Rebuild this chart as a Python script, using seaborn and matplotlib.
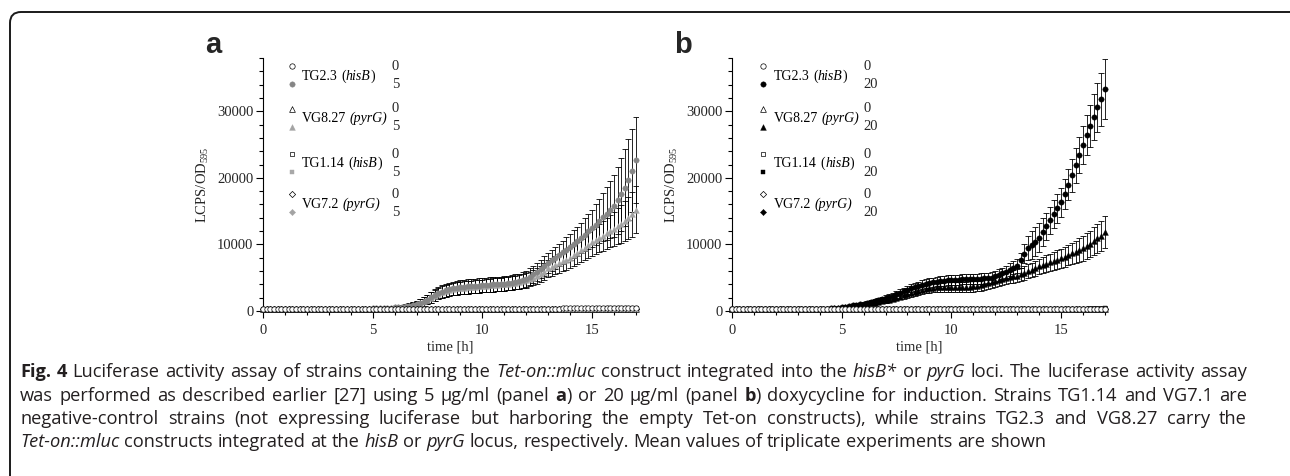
import re
import matplotlib
matplotlib.use("Agg")
import pandas as pd
import matplotlib.pyplot as plt
import seaborn as sns
from matplotlib.patches import FancyBboxPatch
from matplotlib.transforms import IdentityTransform
from matplotlib.ticker import MultipleLocator

W, H = 1290, 476

# readings every 10 min, 0 - 17 h
time_h = [round(i / 6, 4) for i in range(103)]

# ---------------- panel a (5 ug/ml) ----------------
a_tg23_0 = [262, 258, 255, 257, 260, 258,
            256, 255, 258, 260, 259, 257,
            258, 260, 262, 261, 263, 265,
            264, 266, 268, 270, 269, 271,
            273, 275, 276, 278, 280, 281,
            283, 285, 287, 288, 290, 292,
            294, 296, 297, 299, 301, 303,
            305, 306, 308, 310, 312, 314,
            315, 317, 319, 321, 322, 324,
            326, 328, 330, 331, 333, 335,
            337, 339, 340, 342, 344, 346,
            348, 349, 351, 353, 355, 357,
            358, 360, 362, 364, 366, 367,
            369, 371, 373, 375, 376, 378,
            380, 382, 384, 385, 387, 389,
            391, 393, 394, 396, 398, 400,
            402, 403, 405, 407, 409, 411,
            413]
a_tg23_5 = [300, 298, 302, 300, 297, 301,
            299, 303, 300, 298, 302, 300,
            301, 299, 303, 300, 302, 304,
            303, 306, 308, 311, 314, 318,
            322, 328, 335, 344, 356, 370,
            390, 412, 436, 462, 492, 524,
            560, 605, 660, 725, 800, 890,
            1000, 1180, 1420, 1720, 2050, 2380,
            2680, 2920, 3110, 3260, 3380, 3480,
            3560, 3620, 3680, 3730, 3780, 3830,
            3870, 3910, 3950, 3990, 4030, 4070,
            4120, 4190, 4270, 4370, 4480, 4620,
            4800, 5150, 5500, 5900, 6300, 6750,
            7200, 7600, 8000, 8400, 8800, 9200,
            9600, 10050, 10500, 10950, 11450, 11950,
            12400, 12950, 13500, 14050, 14600, 15200,
            15800, 16600, 17500, 18500, 19700, 21100,
            22700]
a_tg23_5_sd = [40, 40, 42, 41, 40, 42,
               43, 42, 44, 43, 45, 44,
               45, 46, 45, 47, 46, 48,
               48, 49, 50, 52, 53, 55,
               58, 62, 66, 72, 80, 88,
               96, 105, 115, 125, 140, 155,
               180, 210, 250, 300, 360, 430,
               500, 580, 660, 740, 820, 880,
               930, 970, 1000, 1020, 1040, 1050,
               1060, 1060, 1070, 1070, 1080, 1080,
               1080, 1080, 1090, 1090, 1100, 1100,
               1100, 1110, 1120, 1130, 1150, 1170,
               1200, 1240, 1290, 1340, 1400, 1460,
               1520, 1580, 1640, 1700, 1780, 1860,
               1950, 2050, 2170, 2300, 2460, 2640,
               2830, 3050, 3300, 3600, 3950, 4300,
               4700, 5100, 5450, 5800, 6100, 6300,
               6500]
a_vg827_0 = [248, 246, 244, 247, 249, 246,
             247, 249, 251, 250, 252, 254,
             253, 255, 257, 258, 257, 259,
             261, 263, 262, 264, 266, 268,
             267, 269, 271, 273, 272, 274,
             276, 278, 277, 279, 281, 283,
             282, 284, 286, 288, 287, 289,
             291, 293, 292, 294, 296, 298,
             297, 299, 301, 303, 302, 304,
             306, 308, 307, 309, 311, 313,
             312, 314, 316, 318, 317, 319,
             321, 323, 322, 324, 326, 328,
             327, 329, 331, 333, 332, 334,
             336, 338, 337, 339, 341, 343,
             342, 344, 346, 348, 347, 349,
             351, 353, 352, 354, 356, 358,
             357, 359, 361, 363, 362, 364,
             366]
a_vg827_5 = [290, 293, 289, 291, 294, 290,
             292, 289, 293, 291, 290, 294,
             292, 295, 293, 296, 294, 297,
             298, 300, 303, 306, 309, 313,
             318, 324, 331, 340, 351, 365,
             383, 404, 428, 456, 488, 524,
             565, 612, 668, 735, 815, 910,
             1030, 1210, 1440, 1720, 2020, 2320,
             2600, 2830, 3020, 3170, 3290, 3380,
             3450, 3510, 3560, 3610, 3660, 3710,
             3760, 3810, 3860, 3910, 3960, 4010,
             4060, 4120, 4190, 4270, 4360, 4470,
             4600, 4800, 5000, 5250, 5550, 5900,
             6400, 6650, 6900, 7200, 7450, 7700,
             8000, 8350, 8700, 9100, 9500, 9900,
             10300, 10600, 10950, 11300, 11650, 12000,
             12300, 12700, 13100, 13550, 14000, 14500,
             15200]
a_vg827_5_sd = [38, 39, 40, 39, 41, 40,
                41, 40, 42, 41, 43, 42,
                43, 44, 43, 45, 44, 46,
                46, 47, 48, 49, 51, 53,
                55, 58, 62, 67, 73, 80,
                88, 96, 105, 115, 128, 142,
                170, 200, 240, 290, 350, 420,
                490, 560, 630, 700, 760, 810,
                850, 880, 900, 920, 930, 940,
                950, 950, 960, 960, 970, 970,
                970, 980, 980, 990, 990, 1000,
                1000, 1010, 1020, 1030, 1050, 1070,
                1090, 1120, 1150, 1180, 1220, 1260,
                1300, 1340, 1380, 1430, 1480, 1530,
                1580, 1640, 1700, 1760, 1830, 1900,
                1970, 2050, 2130, 2220, 2310, 2430,
                2560, 2700, 2850, 3000, 3170, 3350,
                3550]
a_tg114_0 = [272, 270, 268, 271, 273, 270,
             271, 274, 276, 275, 277, 279,
             278, 280, 282, 283, 282, 285,
             287, 288, 287, 290, 292, 293,
             292, 295, 297, 298, 297, 300,
             302, 303, 302, 305, 307, 308,
             307, 310, 312, 313, 312, 315,
             317, 318, 317, 320, 322, 323,
             322, 325, 327, 328, 327, 330,
             332, 333, 332, 335, 337, 338,
             337, 340, 342, 343, 342, 345,
             347, 348, 347, 350, 352, 353,
             352, 355, 357, 358, 357, 360,
             362, 363, 362, 365, 367, 368,
             367, 370, 372, 373, 372, 375,
             377, 378, 377, 380, 382, 383,
             382, 385, 387, 388, 387, 390,
             392]
a_tg114_5 = [266, 264, 262, 265, 267, 264,
             265, 268, 270, 269, 271, 273,
             272, 274, 276, 277, 276, 279,
             281, 282, 281, 284, 286, 287,
             286, 289, 291, 292, 291, 294,
             296, 297, 296, 299, 301, 302,
             301, 304, 306, 307, 306, 309,
             311, 312, 311, 314, 316, 317,
             316, 319, 321, 322, 321, 324,
             326, 327, 326, 329, 331, 332,
             331, 334, 336, 337, 336, 339,
             341, 342, 341, 344, 346, 347,
             346, 349, 351, 352, 351, 354,
             356, 357, 356, 359, 361, 362,
             361, 364, 366, 367, 366, 369,
             371, 372, 371, 374, 376, 377,
             376, 379, 381, 382, 381, 384,
             386]
a_vg72_0 = [252, 250, 253, 251, 249, 252,
            254, 253, 255, 257, 256, 258,
            260, 259, 261, 263, 262, 264,
            266, 265, 267, 269, 268, 270,
            272, 271, 273, 275, 274, 276,
            278, 277, 279, 281, 280, 282,
            284, 283, 285, 287, 286, 288,
            290, 289, 291, 293, 292, 294,
            296, 295, 297, 299, 298, 300,
            302, 301, 303, 305, 304, 306,
            308, 307, 309, 311, 310, 312,
            314, 313, 315, 317, 316, 318,
            320, 319, 321, 323, 322, 324,
            326, 325, 327, 329, 328, 330,
            332, 331, 333, 335, 334, 336,
            338, 337, 339, 341, 340, 342,
            344, 343, 345, 347, 346, 348,
            350]
a_vg72_5 = [258, 256, 259, 257, 255, 258,
            260, 259, 261, 263, 262, 264,
            266, 265, 267, 269, 268, 270,
            272, 271, 273, 275, 274, 276,
            278, 277, 279, 281, 280, 282,
            284, 283, 285, 287, 286, 288,
            290, 289, 291, 293, 292, 294,
            296, 295, 297, 299, 298, 300,
            302, 301, 303, 305, 304, 306,
            308, 307, 309, 311, 310, 312,
            314, 313, 315, 317, 316, 318,
            320, 319, 321, 323, 322, 324,
            326, 325, 327, 329, 328, 330,
            332, 331, 333, 335, 334, 336,
            338, 337, 339, 341, 340, 342,
            344, 343, 345, 347, 346, 348,
            350, 349, 351, 353, 352, 354,
            356]

# ---------------- panel b (20 ug/ml) ----------------
b_tg23_0 = [240, 238, 241, 239, 237, 240,
            242, 241, 243, 245, 244, 246,
            248, 247, 249, 251, 250, 252,
            254, 253, 255, 257, 256, 258,
            260, 259, 261, 263, 262, 264,
            266, 265, 267, 269, 268, 270,
            272, 271, 273, 275, 274, 276,
            278, 277, 279, 281, 280, 282,
            284, 283, 285, 287, 286, 288,
            290, 289, 291, 293, 292, 294,
            296, 295, 297, 299, 298, 300,
            302, 301, 303, 305, 304, 306,
            308, 307, 309, 311, 310, 312,
            314, 313, 315, 317, 316, 318,
            320, 319, 321, 323, 322, 324,
            326, 325, 327, 329, 328, 330,
            332, 331, 333, 335, 334, 336,
            338]
b_tg23_20 = [255, 252, 258, 254, 256, 253,
             257, 254, 256, 259, 255, 258,
             256, 260, 258, 262, 260, 264,
             263, 267, 270, 275, 281, 289,
             300, 320, 350, 390, 440, 500,
             570, 650, 740, 830, 920, 1010,
             1100, 1230, 1370, 1510, 1650, 1800,
             1950, 2120, 2300, 2500, 2720, 2950,
             3180, 3400, 3600, 3780, 3940, 4080,
             4200, 4300, 4390, 4470, 4540, 4600,
             4650, 4690, 4720, 4750, 4770, 4790,
             4810, 4840, 4870, 4910, 4960, 5020,
             5200, 5400, 5650, 5900, 6200, 6500,
             6800, 7600, 8600, 9500, 9900, 10400,
             11000, 11800, 12700, 13600, 14500, 15400,
             16300, 17600, 19000, 20400, 21900, 23400,
             25000, 26400, 27800, 29200, 30600, 31800,
             33300]
b_tg23_20_sd = [35, 36, 35, 37, 36, 38,
                37, 38, 39, 38, 40, 39,
                40, 41, 42, 41, 43, 44,
                45, 47, 49, 52, 56, 60,
                66, 74, 84, 96, 110, 126,
                145, 165, 185, 205, 225, 245,
                265, 285, 305, 325, 345, 370,
                395, 420, 450, 480, 510, 540,
                570, 600, 620, 640, 660, 680,
                690, 700, 710, 720, 730, 740,
                740, 750, 750, 760, 760, 770,
                770, 780, 790, 800, 810, 820,
                840, 860, 880, 910, 940, 980,
                1030, 1150, 1400, 1800, 2100, 2200,
                2200, 2100, 2050, 2050, 2100, 2150,
                2200, 2300, 2400, 2500, 2600, 2700,
                2850, 3000, 3200, 3450, 3700, 4000,
                4500]
b_vg827_0 = [244, 242, 245, 243, 241, 244,
             246, 245, 247, 249, 248, 250,
             252, 251, 253, 255, 254, 256,
             258, 257, 259, 261, 260, 262,
             264, 263, 265, 267, 266, 268,
             270, 269, 271, 273, 272, 274,
             276, 275, 277, 279, 278, 280,
             282, 281, 283, 285, 284, 286,
             288, 287, 289, 291, 290, 292,
             294, 293, 295, 297, 296, 298,
             300, 299, 301, 303, 302, 304,
             306, 305, 307, 309, 308, 310,
             312, 311, 313, 315, 314, 316,
             318, 317, 319, 321, 320, 322,
             324, 323, 325, 327, 326, 328,
             330, 329, 331, 333, 332, 334,
             336, 335, 337, 339, 338, 340,
             342]
b_vg827_20 = [248, 251, 247, 250, 252, 249,
              251, 248, 253, 250, 249, 252,
              251, 254, 252, 255, 253, 257,
              256, 259, 262, 266, 271, 278,
              286, 300, 320, 350, 390, 440,
              500, 570, 640, 720, 800, 880,
              960, 1050, 1150, 1250, 1360, 1470,
              1590, 1720, 1860, 2010, 2170, 2340,
              2520, 2700, 2870, 3030, 3170, 3290,
              3390, 3470, 3530, 3570, 3590, 3600,
              3600, 3600, 3610, 3620, 3640, 3660,
              3700, 3780, 3880, 4000, 4140, 4300,
              4460, 4620, 4780, 4930, 5070, 5190,
              5300, 5520, 5740, 5960, 6180, 6440,
              6700, 6900, 7100, 7300, 7500, 7700,
              7900, 8150, 8400, 8650, 8900, 9150,
              9400, 9750, 10100, 10500, 10900, 11300,
              11800]
b_vg827_20_sd = [34, 35, 34, 36, 35, 37,
                 36, 37, 38, 37, 39, 38,
                 39, 40, 41, 40, 42, 43,
                 44, 45, 47, 49, 52, 55,
                 59, 65, 72, 80, 90, 100,
                 112, 126, 140, 155, 170, 185,
                 200, 220, 240, 260, 280, 300,
                 325, 350, 380, 410, 440, 470,
                 500, 530, 560, 590, 610, 630,
                 650, 670, 690, 700, 710, 720,
                 730, 740, 750, 760, 770, 780,
                 790, 800, 810, 820, 830, 840,
                 850, 870, 890, 910, 930, 950,
                 980, 1010, 1040, 1070, 1100, 1140,
                 1180, 1220, 1260, 1300, 1350, 1400,
                 1450, 1500, 1560, 1620, 1680, 1750,
                 1820, 1900, 1980, 2070, 2160, 2260,
                 2400]
b_tg114_0 = [262, 260, 258, 261, 263, 260,
             261, 264, 266, 265, 267, 269,
             268, 270, 272, 273, 272, 275,
             277, 278, 277, 280, 282, 283,
             282, 285, 287, 288, 287, 290,
             292, 293, 292, 295, 297, 298,
             297, 300, 302, 303, 302, 305,
             307, 308, 307, 310, 312, 313,
             312, 315, 317, 318, 317, 320,
             322, 323, 322, 325, 327, 328,
             327, 330, 332, 333, 332, 335,
             337, 338, 337, 340, 342, 343,
             342, 345, 347, 348, 347, 350,
             352, 353, 352, 355, 357, 358,
             357, 360, 362, 363, 362, 365,
             367, 368, 367, 370, 372, 373,
             372, 375, 377, 378, 377, 380,
             382]
b_tg114_20 = [256, 254, 252, 255, 257, 254,
              255, 258, 260, 259, 261, 263,
              262, 264, 266, 267, 266, 269,
              271, 272, 271, 274, 276, 277,
              276, 279, 281, 282, 281, 284,
              286, 287, 286, 289, 291, 292,
              291, 294, 296, 297, 296, 299,
              301, 302, 301, 304, 306, 307,
              306, 309, 311, 312, 311, 314,
              316, 317, 316, 319, 321, 322,
              321, 324, 326, 327, 326, 329,
              331, 332, 331, 334, 336, 337,
              336, 339, 341, 342, 341, 344,
              346, 347, 346, 349, 351, 352,
              351, 354, 356, 357, 356, 359,
              361, 362, 361, 364, 366, 367,
              366, 369, 371, 372, 371, 374,
              376]
b_vg72_0 = [236, 235, 237, 239, 238, 240,
            243, 241, 244, 245, 243, 246,
            249, 247, 250, 251, 249, 252,
            255, 253, 256, 257, 255, 258,
            261, 259, 262, 263, 261, 264,
            267, 265, 268, 269, 267, 270,
            273, 271, 274, 275, 273, 276,
            279, 277, 280, 281, 279, 282,
            285, 283, 286, 287, 285, 288,
            291, 289, 292, 293, 291, 294,
            297, 295, 298, 299, 297, 300,
            303, 301, 304, 305, 303, 306,
            309, 307, 310, 311, 309, 312,
            315, 313, 316, 317, 315, 318,
            321, 319, 322, 323, 321, 324,
            327, 325, 328, 329, 327, 330,
            333, 331, 334, 335, 333, 336,
            339]
b_vg72_20 = [250, 248, 251, 249, 247, 250,
             252, 251, 253, 255, 254, 256,
             258, 257, 259, 261, 260, 262,
             264, 263, 265, 267, 266, 268,
             270, 269, 271, 273, 272, 274,
             276, 275, 277, 279, 278, 280,
             282, 281, 283, 285, 284, 286,
             288, 287, 289, 291, 290, 292,
             294, 293, 295, 297, 296, 298,
             300, 299, 301, 303, 302, 304,
             306, 305, 307, 309, 308, 310,
             312, 311, 313, 315, 314, 316,
             318, 317, 319, 321, 320, 322,
             324, 323, 325, 327, 326, 328,
             330, 329, 331, 333, 332, 334,
             336, 335, 337, 339, 338, 340,
             342, 341, 343, 345, 344, 346,
             348]

strains = ["TG2.3", "VG8.27", "TG1.14", "VG7.2"]
strain_labels = [
    [("TG2.3 (", ""), ("hisB", "i"), (")", "")],
    [("VG8.27 ", ""), ("(pyrG)", "i")],
    [("TG1.14 (", ""), ("hisB", "i"), (")", "")],
    [("VG7.2 ", ""), ("(pyrG)", "i")],
]
doses = {"a": "5", "b": "20"}

series_a = {
    ("TG2.3", "0"): (a_tg23_0, None), ("TG2.3", "5"): (a_tg23_5, a_tg23_5_sd),
    ("VG8.27", "0"): (a_vg827_0, None), ("VG8.27", "5"): (a_vg827_5, a_vg827_5_sd),
    ("TG1.14", "0"): (a_tg114_0, None), ("TG1.14", "5"): (a_tg114_5, None),
    ("VG7.2", "0"): (a_vg72_0, None), ("VG7.2", "5"): (a_vg72_5, None),
}
series_b = {
    ("TG2.3", "0"): (b_tg23_0, None), ("TG2.3", "20"): (b_tg23_20, b_tg23_20_sd),
    ("VG8.27", "0"): (b_vg827_0, None), ("VG8.27", "20"): (b_vg827_20, b_vg827_20_sd),
    ("TG1.14", "0"): (b_tg114_0, None), ("TG1.14", "20"): (b_tg114_20, None),
    ("VG7.2", "0"): (b_vg72_0, None), ("VG7.2", "20"): (b_vg72_20, None),
}

caption = [
    [("Fig. 4", "b"), (" Luciferase activity assay of strains containing the ", ""),
     ("Tet-on::mluc", "i"), (" construct integrated into the ", ""), ("hisB*", "i"),
     (" or ", ""), ("pyrG", "i"), (" loci. The luciferase activity assay", "")],
    [("was performed as described earlier [27] using 5 \u00b5g/ml (panel ", ""), ("a", "b"),
     (") or 20 \u00b5g/ml (panel ", ""), ("b", "b"),
     (") doxycycline for induction. Strains TG1.14 and VG7.1 are", "")],
    [("negative-control strains (not expressing luciferase but harboring the empty "
      "Tet-on constructs), while strains TG2.3 and VG8.27 carry the", "")],
    [("Tet-on::mluc", "i"), (" constructs integrated at the ", ""), ("hisB", "i"),
     (" or ", ""), ("pyrG", "i"),
     (" locus, respectively. Mean values of triplicate experiments are shown", "")],
]

# ---------------- style ----------------
sns.set_style("ticks")
plt.rcParams["font.family"] = ["Liberation Serif", "DejaVu Serif"]
plt.rcParams["mathtext.fontset"] = "custom"
plt.rcParams["mathtext.rm"] = "Liberation Serif"
plt.rcParams["mathtext.it"] = "Liberation Serif:italic"
plt.rcParams["axes.edgecolor"] = "black"
plt.rcParams["axes.linewidth"] = 0.8

markers = {"TG2.3": ("o", 15), "VG8.27": ("^", 17), "TG1.14": ("s", 12), "VG7.2": ("D", 10)}
fill_a = {"TG2.3": "#858585", "VG8.27": "#a3a3a3", "TG1.14": "#a8a8a8", "VG7.2": "#a3a3a3"}
fill_b = {k: "black" for k in strains}

fig = plt.figure(figsize=(W / 100, H / 100), dpi=100)
renderer = fig.canvas.get_renderer()


def fx(x):
    return x / W


def fy(y):
    return 1 - y / H


def style_kw(st, size, family, color="black"):
    return dict(fontsize=size, family=family, color=color,
                fontstyle="italic" if "i" in st else "normal",
                fontweight="bold" if "b" in st else "normal")


def text_width(s, **kw):
    t = fig.text(0, 0, "x" + s + "x", **kw)
    w1 = t.get_window_extent(renderer).width
    t.set_text("xx")
    w0 = t.get_window_extent(renderer).width
    t.remove()
    return w1 - w0


def tokenize(parts, size, family):
    tokens = []
    for s, st in parts:
        for piece in re.split(r"( )", s):
            if piece:
                tokens.append((piece, st, text_width(piece, **style_kw(st, size, family))))
    return tokens


def rich(x, y, parts, size, family, color="black", justify_to=None):
    # one line of mixed roman / italic / bold pieces, pixel coords from top-left;
    # with justify_to the word gaps are widened so the line ends at that x
    tokens = tokenize(parts, size, family)
    extra = 0
    if justify_to is not None:
        gaps = sum(1 for p, _, _ in tokens if p == " ")
        natural = sum(w for _, _, w in tokens)
        extra = (justify_to - x - natural) / max(gaps, 1)
    for piece, st, w in tokens:
        if piece == " ":
            x += w + extra
            continue
        fig.text(fx(x), fy(y), piece, va="baseline", ha="left",
                 **style_kw(st, size, family, color))
        x += w
    return x


# frame round the whole figure
frame = FancyBboxPatch((10, -30), 1300, 476 - 12 + 30, boxstyle="round,pad=0,rounding_size=11",
                       transform=IdentityTransform(), fill=False, edgecolor="#1a1a1a", linewidth=1.4)
fig.patches.append(frame)

panels = [("a", 263, series_a, fill_a, (292, 302, 392)),
          ("b", 732, series_b, fill_b, (763, 774, 863))]
leg_rows = [(66, 84, 80), (109, 127, 122), (154, 172, 167), (194, 212, 208)]

for letter, left, series, fills, (mx, tx, nx) in panels:
    ax = fig.add_axes([fx(left), fy(311), 375 / W, 253 / H])
    dose = doses[letter]
    rows = []
    for (strain, d), (vals, sd) in series.items():
        for i, t in enumerate(time_h):
            rows.append(dict(time=t, lcps=vals[i], sd=sd[i] if sd else 0,
                             strain=strain, dose=d))
    df = pd.DataFrame(rows)

    # error bars of the induced, luciferase-carrying strains
    for (strain, d), (vals, sd) in series.items():
        if sd is None:
            continue
        sub = df[(df.strain == strain) & (df.dose == d)]
        ax.errorbar(sub.time, sub.lcps, yerr=sub.sd, fmt="none", ecolor="black",
                    elinewidth=0.6, capsize=2.2, capthick=0.6, zorder=2)
    # filled markers (induced) then open markers (uninduced)
    for d in (dose, "0"):
        for strain in ["TG1.14", "VG7.2", "VG8.27", "TG2.3"]:
            sub = df[(df.strain == strain) & (df.dose == d)]
            m, s = markers[strain]
            if d == "0":
                fc, ec, lw = "white", "black", 0.5
            else:
                fc, ec, lw = fills[strain], fills[strain], 0.3
            sns.scatterplot(data=sub, x="time", y="lcps", marker=m, s=s, color=fc,
                            edgecolor=ec, linewidth=lw, ax=ax, zorder=3, clip_on=False,
                            legend=False)

    ax.xaxis.set_major_locator(MultipleLocator(5))
    ax.xaxis.set_minor_locator(MultipleLocator(1))
    ax.yaxis.set_major_locator(MultipleLocator(10000))
    ax.yaxis.set_minor_locator(MultipleLocator(2000))
    ax.tick_params(which="major", length=5, width=0.8, labelsize=10.5, color="black")
    ax.tick_params(which="minor", length=3, width=0.8, color="black")
    ax.tick_params(axis="y", pad=2)
    ax.tick_params(axis="x", pad=4)
    sns.despine(ax=ax)
    ax.set_xlabel("time [h]", fontsize=10.5, labelpad=3)
    ax.set_ylabel(r"LCPS/OD$_{\mathit{595}}$", fontsize=10.5, labelpad=4)

    # panel letter
    fig.text(fx(left - 58), fy(53), letter, fontsize=21, fontweight="bold",
             family="Liberation Sans", va="baseline", ha="left")

    # hand built legend: open (0) and filled (dose) markers per strain
    for strain, parts, (y_open, y_fill, y_text) in zip(strains, strain_labels, leg_rows):
        m, s = markers[strain]
        ax.scatter([fx(mx)], [fy(y_open)], marker=m, s=s, facecolor="white",
                   edgecolor="black", linewidth=0.5, transform=fig.transFigure, clip_on=False)
        ax.scatter([fx(mx)], [fy(y_fill)], marker=m, s=s, facecolor=fills[strain],
                   edgecolor=fills[strain], linewidth=0.3, transform=fig.transFigure,
                   clip_on=False)
        rich(tx, y_text, parts, 10, "Liberation Serif")
        fig.text(fx(nx), fy(y_open), "0", fontsize=10.5, va="center", ha="left")
        fig.text(fx(nx), fy(y_fill), dose, fontsize=10.5, va="center", ha="left")
    ax.set_xlim(0, 17.1)
    ax.set_ylim(0, 38000)

# justified caption (last line ragged); size chosen so line 1 nearly fills the box
cap_font = "Open Sans"
probe = sum(w for _, _, w in tokenize(caption[0], 10, cap_font))
cap_size = 10 * 1215 / probe
for k, (line, yb) in enumerate(zip(caption, [377, 401, 424, 447])):
    rich(20, yb, line, cap_size, cap_font, color="#231f20",
         justify_to=1247 if k < len(caption) - 1 else None)

fig.savefig("out.png", dpi=100)
